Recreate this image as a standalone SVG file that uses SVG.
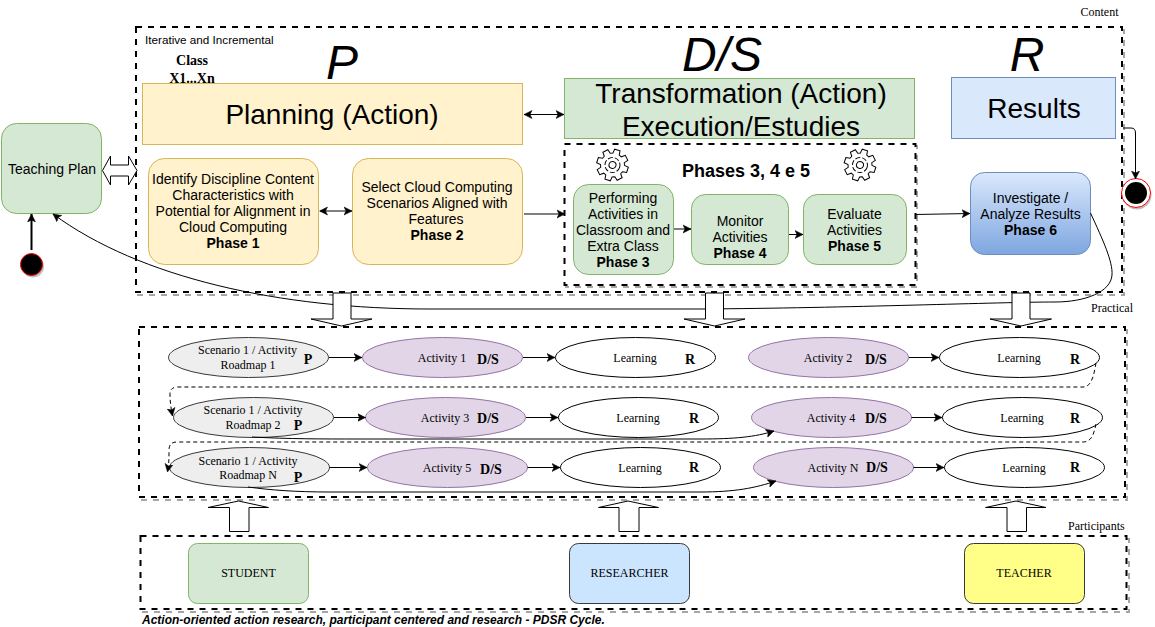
<svg xmlns="http://www.w3.org/2000/svg" xmlns:xlink="http://www.w3.org/1999/xlink" width="1155" height="627" viewBox="0 0 1155 627">
<style>
text{font-family:"Liberation Sans",Arial,sans-serif;fill:#000;text-anchor:middle}
.s{font-family:"Liberation Serif","Times New Roman",serif}
.t14{font-size:14px}.big{font-size:28px}.let{font-size:48px;font-style:italic}
.e{font-family:"Liberation Serif","Times New Roman",serif;font-size:12px}
.b{font-family:"Liberation Serif","Times New Roman",serif;font-size:14px;font-weight:bold}
.st{font-family:"Liberation Serif","Times New Roman",serif;font-size:12px;text-anchor:start}
.y{fill:#fff2cc;stroke:#d6b656}.g{fill:#d5e8d4;stroke:#82b366}.bl{fill:#dae8fc;stroke:#6c8ebf}
.dash{fill:none;stroke:#000;stroke-width:2;stroke-dasharray:6 6}
.shadow{fill:none;stroke:#000;stroke-opacity:.35;stroke-width:2;stroke-dasharray:6 6}
.el-g{fill:#eee;stroke:#36393d}.el-p{fill:#e1d5e7;stroke:#9673a6}.el-w{fill:#fff;stroke:#000}
.c{fill:none;stroke:#000;stroke-width:1;marker-end:url(#a)}
.cd{fill:none;stroke:#000;stroke-width:1;stroke-dasharray:4 3;marker-end:url(#a)}
.both{marker-start:url(#as)}
.hollow{fill:#fff;stroke:#000;stroke-width:1}
.gear{fill:none;stroke:#000;stroke-width:1}
</style>
<defs>
<marker id="a" markerUnits="userSpaceOnUse" markerWidth="10" markerHeight="10" refX="8" refY="5" orient="auto"><path d="M0,1 L8,5 L0,9 L2,5 Z" fill="#000" stroke="#000" stroke-width=".5"/></marker>
<marker id="as" markerUnits="userSpaceOnUse" markerWidth="10" markerHeight="10" refX="0" refY="5" orient="auto"><path d="M8,1 L0,5 L8,9 L6,5 Z" fill="#000" stroke="#000" stroke-width=".5"/></marker>
<linearGradient id="grad" x1="0" y1="0" x2="0" y2="1"><stop offset="0" stop-color="#dae8fc"/><stop offset="1" stop-color="#7ea6e0"/></linearGradient>
<g id="gearShape" class="gear">
<path d="M11.54,-3.31 15.76,-2.78 15.76,2.78 11.54,3.31 10.5,5.82 13.11,9.18 9.18,13.11 5.82,10.5 3.31,11.54 2.78,15.76 -2.78,15.76 -3.31,11.54 -5.82,10.5 -9.18,13.11 -13.11,9.18 -10.5,5.82 -11.54,3.31 -15.76,2.78 -15.76,-2.78 -11.54,-3.31 -10.5,-5.82 -13.11,-9.18 -9.18,-13.11 -5.82,-10.5 -3.31,-11.54 -2.78,-15.76 2.78,-15.76 3.31,-11.54 5.82,-10.5 9.18,-13.11 13.11,-9.18 10.5,-5.82 Z"/>
<circle r="7.5" stroke-dasharray="5 2"/><circle r="3.5"/>
</g>
</defs>
<rect width="1155" height="627" fill="#fff"/>

<g id="content-box">
<rect class="shadow" x="138" y="30" width="986" height="265"/>
<rect x="136" y="27" width="986" height="265" fill="#fff" stroke="none"/>
<rect class="dash" x="136" y="27" width="986" height="265"/>
<text x="145" y="44" style="font-size:11.700px;text-anchor:start">Iterative and Incremental</text>
<text class="b" x="192" y="65">Class</text>
<text class="b" x="192" y="83">X1...Xn</text>
<text class="let" x="342" y="78.500">P</text>
<text class="let" x="722" y="71">D/S</text>
<text class="let" x="1027" y="71">R</text>
<text class="st" x="1080.500" y="16">Content</text>
</g>

<g id="practical-box">
<rect class="shadow" x="141" y="330" width="986" height="170"/>
<rect x="139" y="327" width="986" height="170" fill="#fff" stroke="none"/>
<rect class="dash" x="139" y="327" width="986" height="170"/>
<text class="st" x="1091" y="312">Practical</text>
</g>

<g id="participants-box">
<rect class="shadow" x="143" y="539" width="986" height="73"/>
<rect x="140.500" y="536" width="986" height="73" fill="#fff" stroke="none"/>
<rect class="dash" x="140.500" y="536" width="986" height="73"/>
<text class="st" x="1068" y="530">Participants</text>
</g>

<g id="planning"><rect class="y" x="142.500" y="83.500" width="380" height="61"/><text class="big" x="332" y="124">Planning (Action)</text></g>
<g id="transformation"><rect class="g" x="564.500" y="78.500" width="350" height="60"/><text class="big" x="741" y="103">Transformation (Action)</text><text class="big" x="741" y="136">Execution/Estudies</text></g>
<g id="results"><rect class="bl" x="951.500" y="77.500" width="164" height="61"/><text class="big" x="1034" y="118">Results</text></g>
<g id="teaching-plan"><rect class="g" x="1.500" y="123.500" width="100" height="90" rx="15"/><text class="t14" x="52" y="174">Teaching Plan</text></g>

<g id="phase1"><rect class="y" x="148.500" y="158.500" width="170" height="106" rx="16"/><text class="t14" x="233" y="184">Identify Discipline Content</text><text class="t14" x="233" y="200">Characteristics with</text><text class="t14" x="233" y="216">Potential for Alignment in</text><text class="t14" x="233" y="232">Cloud Computing</text><text class="t14" x="233" y="248" font-weight="bold">Phase 1</text></g>
<g id="phase2"><rect class="y" x="352.500" y="158.500" width="170" height="106" rx="16"/><text class="t14" x="437" y="192">Select Cloud Computing</text><text class="t14" x="437" y="208">Scenarios Aligned with</text><text class="t14" x="436" y="224">Features</text><text class="t14" x="437" y="240" font-weight="bold">Phase 2</text></g>

<g id="phases-345">
<rect class="shadow" x="566" y="146" width="351" height="141"/>
<rect x="564.500" y="144" width="351" height="141" fill="#fff" stroke="none"/>
<rect class="dash" x="564.500" y="144" width="351" height="141"/>
<text x="746" y="177" style="font-size:18px;font-weight:bold">Phases 3, 4 e 5</text>
<use xlink:href="#gearShape" href="#gearShape" transform="translate(612.500,165) rotate(18)"/>
<use xlink:href="#gearShape" href="#gearShape" transform="translate(860,165) rotate(18)"/>
</g>
<g id="phase3"><rect class="g" x="573.500" y="184.500" width="100" height="90" rx="15"/><text class="t14" x="623" y="203">Performing</text><text class="t14" x="623" y="219">Activities in</text><text class="t14" x="623" y="235">Classroom and</text><text class="t14" x="623" y="251">Extra Class</text><text class="t14" x="623" y="267" font-weight="bold">Phase 3</text></g>
<g id="phase4"><rect class="g" x="691.500" y="194.500" width="97" height="70" rx="14"/><text class="t14" x="740" y="226">Monitor</text><text class="t14" x="740" y="242">Activities</text><text class="t14" x="740" y="258" font-weight="bold">Phase 4</text></g>
<g id="phase5"><rect class="g" x="803.500" y="194.500" width="103" height="70" rx="14"/><text class="t14" x="854.500" y="219">Evaluate</text><text class="t14" x="854.500" y="235">Activities</text><text class="t14" x="854.500" y="251" font-weight="bold">Phase 5</text></g>
<g id="phase6"><rect x="970.500" y="172.500" width="120" height="82" rx="14" fill="url(#grad)" stroke="#6c8ebf"/><text class="t14" x="1030.500" y="203">Investigate /</text><text class="t14" x="1030.500" y="219">Analyze Results</text><text class="t14" x="1030.500" y="235" font-weight="bold">Phase 6</text></g>

<g id="start"><circle cx="33" cy="266.500" r="11" fill="#000" fill-opacity=".25"/><circle cx="31.500" cy="264.500" r="11" fill="#000" stroke="#f00"/></g>
<g id="end"><circle cx="1137" cy="195" r="14.500" fill="#000" fill-opacity=".25"/><circle cx="1136" cy="193" r="14.500" fill="#fff" stroke="#f00"/><circle cx="1136" cy="193" r="11" fill="#000"/></g>

<g id="s1"><ellipse class="el-g" cx="248.500" cy="357.500" rx="80" ry="20"/><text class="e" x="247.500" y="354">Scenario 1 / Activity</text><text class="e" x="248" y="368.500">Roadmap 1</text><text class="b" x="308" y="364">P</text></g>
<g id="a1"><ellipse class="el-p" cx="442.500" cy="357.500" rx="80" ry="20"/><text class="e" x="442" y="362">Activity 1</text><text class="b" x="488" y="364">D/S</text></g>
<g id="l1"><ellipse class="el-w" cx="635.500" cy="357.500" rx="80" ry="20"/><text class="e" x="635" y="362">Learning</text><text class="b" x="690" y="364">R</text></g>
<g id="a2"><ellipse class="el-p" cx="828.500" cy="357.500" rx="80" ry="20"/><text class="e" x="828" y="362">Activity 2</text><text class="b" x="876" y="364">D/S</text></g>
<g id="l2"><ellipse class="el-w" cx="1019.500" cy="357.500" rx="80" ry="20"/><text class="e" x="1019" y="362">Learning</text><text class="b" x="1075" y="364">R</text></g>

<g id="s2"><ellipse class="el-g" cx="253.500" cy="417.500" rx="80" ry="20"/><text class="e" x="253" y="414">Scenario 1 / Activity</text><text class="e" x="253" y="428.500">Roadmap 2</text><text class="b" x="298" y="430">P</text></g>
<g id="a3"><ellipse class="el-p" cx="445.500" cy="417.500" rx="80" ry="20"/><text class="e" x="445" y="422">Activity 3</text><text class="b" x="488" y="423">D/S</text></g>
<g id="l3"><ellipse class="el-w" cx="638.500" cy="417.500" rx="80" ry="20"/><text class="e" x="638" y="422">Learning</text><text class="b" x="694" y="423">R</text></g>
<g id="a4"><ellipse class="el-p" cx="831.500" cy="417.500" rx="80" ry="20"/><text class="e" x="831" y="422">Activity 4</text><text class="b" x="876" y="423">D/S</text></g>
<g id="l4"><ellipse class="el-w" cx="1022.500" cy="417.500" rx="80" ry="20"/><text class="e" x="1022" y="422">Learning</text><text class="b" x="1075" y="423">R</text></g>

<g id="s3"><ellipse class="el-g" cx="249.500" cy="467.500" rx="80" ry="20"/><text class="e" x="248" y="465">Scenario 1 / Activity</text><text class="e" x="248" y="479">Roadmap N</text><text class="b" x="298" y="482">P</text></g>
<g id="a5"><ellipse class="el-p" cx="447.500" cy="467.500" rx="80" ry="20"/><text class="e" x="447" y="472">Activity 5</text><text class="b" x="491" y="474">D/S</text></g>
<g id="l5"><ellipse class="el-w" cx="640.500" cy="467.500" rx="80" ry="20"/><text class="e" x="640" y="472">Learning</text><text class="b" x="694" y="472">R</text></g>
<g id="a6"><ellipse class="el-p" cx="833.500" cy="467.500" rx="80" ry="20"/><text class="e" x="833" y="472">Activity N</text><text class="b" x="877" y="472">D/S</text></g>
<g id="l6"><ellipse class="el-w" cx="1024.500" cy="467.500" rx="80" ry="20"/><text class="e" x="1024" y="472">Learning</text><text class="b" x="1075" y="472">R</text></g>

<g id="student"><rect class="g" x="188.500" y="543.500" width="120" height="60" rx="9"/><text class="e" x="248.500" y="577">STUDENT</text></g>
<g id="researcher"><rect x="569.500" y="543.500" width="120" height="60" rx="9" fill="#cce5ff" stroke="#36393d"/><text class="e" x="629.500" y="577">RESEARCHER</text></g>
<g id="teacher"><rect x="964.500" y="543.500" width="120" height="60" rx="9" fill="#ffff88" stroke="#36393d"/><text class="e" x="1024" y="577">TEACHER</text></g>

<g id="connectors">
<path class="c both" d="M524,114.500H564"/>
<path class="c both" d="M319.500,211H352"/>
<path class="c" d="M524,214H565"/>
<path class="c" d="M674,229H691"/>
<path class="c" d="M789,234.500H803"/>
<path class="c" d="M915,214.500L970,213.500"/>
<path class="c" d="M1123,128H1131Q1135.500,128 1135.500,133V179"/>
<path d="M31.500,250V214" fill="none" stroke="#000" stroke-width="2" marker-end="url(#a)"/>
<path class="c" d="M1090.500,213C1103,240 1113,262 1112,275C1111,292 1085,302 1055,302C1000,302 850,308 700,309L430,309C280,309 140,278 53,214"/>
<path class="c" d="M329,357.500H362"/><path class="c" d="M523,357.500H555"/><path class="c" d="M909,357.500H939"/>
<path class="c" d="M334,417.500H365.500"/><path class="c" d="M526,417.500H558"/><path class="c" d="M911.500,417.500H942"/>
<path class="c" d="M329.500,467.500H367"/><path class="c" d="M527.500,467.500H560"/><path class="c" d="M913.500,467.500H944"/>
<path class="cd" d="M1096,363C1094,374 1092,387 1083,387H178Q170,387 170,394C170,402 171,408 172.500,416"/>
<path class="cd" d="M1096,424C1094,433 1092,442 1083,442H177Q169,442 169,450C169,458 169,464 167.500,472"/>
<path class="c" d="M252,437C290,439 320,439 360,439H700C735,439 755,437 774,431"/>
<path class="c" d="M248,487C270,490 295,492 330,492H700C735,492 755,488 776,481"/>
<path class="hollow" d="M102.500,170.500L110.500,156V165H128.500V156L137,170.500L128.500,185V176H110.500V185Z"/>
<path class="hollow" d="M333,293H351V319H372L341.500,326L311,319H333Z"/>
<path class="hollow" d="M705.500,293H723.500V319H745L714.500,326L684,319H705.500Z"/>
<path class="hollow" d="M1012,293H1030V319H1051.500L1021,326L990,319H1012Z"/>
<path class="hollow" d="M229.500,531.500V507.500H208L238.500,501L268.500,507.500H249V531.500Z"/>
<path class="hollow" d="M619,531.500V507.500H598.500L628,501L658.500,507.500H639V531.500Z"/>
<path class="hollow" d="M1007,531.500V507.500H985.500L1016,501L1046,507.500H1026.500V531.500Z"/>
</g>
<text x="142" y="624" style="font-size:12px;font-weight:bold;font-style:italic;text-anchor:start">Action-oriented action research, participant centered and research - PDSR Cycle.</text>
</svg>
